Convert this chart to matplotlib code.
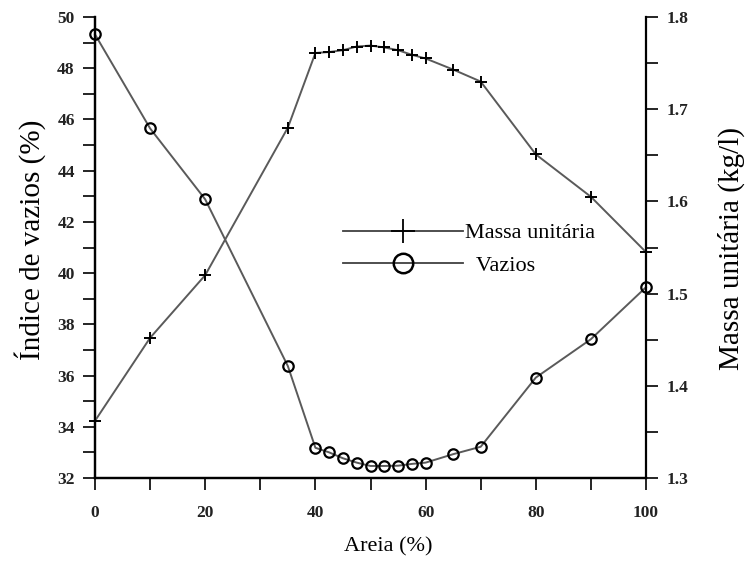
import matplotlib.pyplot as plt
from matplotlib.lines import Line2D

areia = [0, 10, 20, 35, 40, 42.5, 45, 47.5, 50, 52.5, 55, 57.5, 60, 65, 70, 80, 90, 100]
vazios = [49.32, 45.65, 42.88, 36.37, 33.18, 33.0, 32.77, 32.6, 32.47, 32.47,
          32.48, 32.55, 32.6, 32.93, 33.22, 35.92, 37.42, 39.45]
massa = [1.362, 1.452, 1.520, 1.680, 1.761, 1.762, 1.764, 1.768, 1.769, 1.767,
         1.764, 1.759, 1.755, 1.743, 1.730, 1.651, 1.605, 1.545]

x_ticks = [0, 20, 40, 60, 80, 100]
left_ticks = [32, 34, 36, 38, 40, 42, 44, 46, 48, 50]
right_ticks = [1.3, 1.4, 1.5, 1.6, 1.7, 1.8]

plt.rcParams['font.family'] = ['Liberation Serif', 'DejaVu Serif']

W, H = 745, 563
fig = plt.figure(figsize=(W / 100, H / 100), dpi=100)
ax = fig.add_axes([95 / W, 1 - 478 / H, (646 - 95) / W, (478 - 17) / H])
ax2 = ax.twinx()

line_c = '#5a5a5a'
ax.plot(areia, vazios, color=line_c, lw=1.4, marker='o', ms=7.5, mfc='none',
        mec='black', mew=1.6, clip_on=False, zorder=3)
ax2.plot(areia, massa, color=line_c, lw=1.4, marker='+', ms=8.5, mec='black',
         mew=1.4, clip_on=False, zorder=3)

ax.set_xlim(0, 100)
ax.set_ylim(32, 50)
ax2.set_ylim(1.3, 1.8)

ax.set_xticks(x_ticks)
ax.set_xticks(range(0, 101, 10), minor=True)
ax.set_yticks(left_ticks)
ax.set_yticks(range(32, 51), minor=True)
ax2.set_yticks(right_ticks)
ax2.set_yticks([1.3 + 0.05 * i for i in range(11)], minor=True)

for a in (ax, ax2):
    a.spines['top'].set_visible(False)
    for s in a.spines.values():
        s.set_linewidth(1.6)
    a.tick_params(which='both', direction='out', length=8.5, width=1.2,
                  labelsize=12.5, labelcolor='#222222', pad=6)
ax.spines['right'].set_visible(False)
ax.tick_params(axis='x', pad=11)

for lab in ax.get_xticklabels() + ax.get_yticklabels() + ax2.get_yticklabels():
    lab.set_fontweight('bold')

fig.text(388 / W, 1 - 547 / H, 'Areia (%)', ha='center', va='center', fontsize=16)
fig.text(30 / W, 1 - 240 / H, 'Índice de vazios (%)', ha='center', va='center',
         rotation=90, fontsize=21)
fig.text(731 / W, 1 - 249 / H, 'Massa unitária (kg/l)', ha='center', va='center',
         rotation=90, fontsize=21)

handles = [
    Line2D([], [], color='#404040', lw=1.3, marker='+', ms=17, mec='black', mew=1.3),
    Line2D([], [], color='#404040', lw=1.3, marker='o', ms=14, mfc='none',
           mec='black', mew=1.8),
]
fig.legend(handles, ['Massa unitária', '  Vazios'], loc='center left',
           bbox_to_anchor=(343 / W, 1 - 249.5 / H), frameon=False, fontsize=16,
           handlelength=5.4, handletextpad=0.1, labelspacing=0.55,
           borderpad=0, borderaxespad=0)

fig.savefig('out.png', dpi=100)
